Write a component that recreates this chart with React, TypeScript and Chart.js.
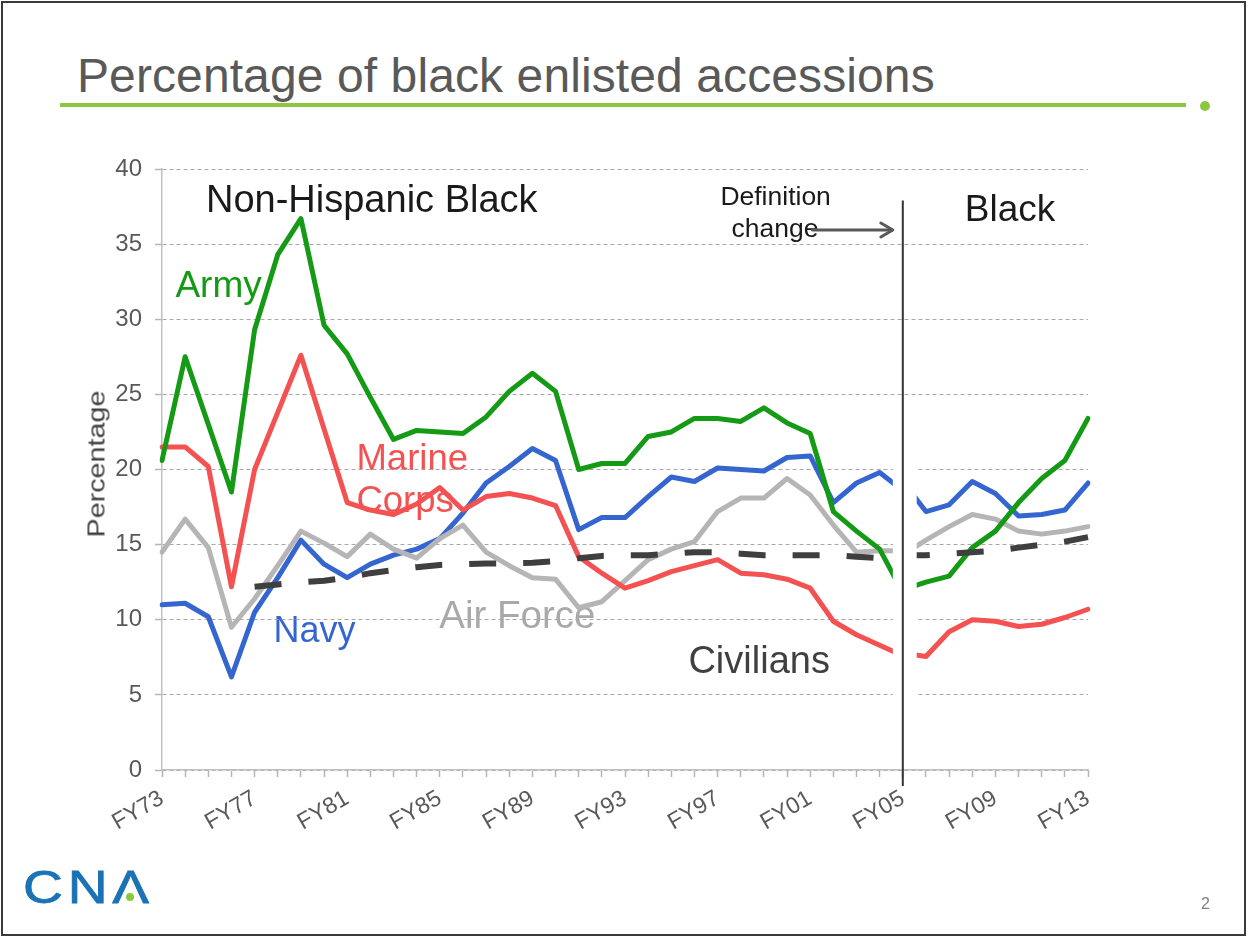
import React, { useEffect, useRef } from 'react';
import { Chart, registerables } from 'chart.js';

Chart.register(...registerables);

const FONT = '"Liberation Sans", Arial, Helvetica, sans-serif';

// ---- categories ----
const years = [
  'FY73', 'FY74', 'FY75', 'FY76', 'FY77', 'FY78', 'FY79', 'FY80', 'FY81', 'FY82',
  'FY83', 'FY84', 'FY85', 'FY86', 'FY87', 'FY88', 'FY89', 'FY90', 'FY91', 'FY92',
  'FY93', 'FY94', 'FY95', 'FY96', 'FY97', 'FY98', 'FY99', 'FY00', 'FY01', 'FY02',
  'FY03', 'FY04', 'FY05', 'FY06', 'FY07', 'FY08', 'FY09', 'FY10', 'FY11', 'FY12', 'FY13',
];
const tickLabels = ['FY73', 'FY77', 'FY81', 'FY85', 'FY89', 'FY93', 'FY97', 'FY01', 'FY05', 'FY09', 'FY13'];
const splitYear = 'FY05';

// Non-Hispanic Black definition (FY73 - FY05)
const nhbYears = years.slice(0, 33);
const armyNHB = [20.6, 27.5, 23.0, 18.5, 29.3, 34.3, 36.7, 29.6, 27.7, 24.8, 22.0, 22.6, 22.5, 22.4, 23.5, 25.2, 26.4, 25.2, 20.0, 20.4, 20.4, 22.2, 22.5, 23.4, 23.4, 23.2, 24.1, 23.1, 22.4, 17.2, 15.9, 14.7, 11.8];
const navyNHB = [11.0, 11.1, 10.2, 6.2, 10.5, 12.8, 15.3, 13.7, 12.8, 13.7, 14.3, 14.7, 15.4, 17.1, 19.1, 20.2, 21.4, 20.6, 16.0, 16.8, 16.8, 18.2, 19.5, 19.2, 20.1, 20.0, 19.9, 20.8, 20.9, 17.8, 19.1, 19.8, 18.6];
const marineNHB = [21.5, 21.5, 20.2, 12.2, 20.0, 23.8, 27.6, 22.7, 17.8, 17.3, 17.0, 17.7, 18.8, 17.3, 18.2, 18.4, 18.1, 17.6, 14.2, 13.1, 12.1, 12.6, 13.2, 13.6, 14.0, 13.1, 13.0, 12.7, 12.1, 9.9, 9.0, 8.3, 7.6];
const airForceNHB = [14.5, 16.7, 14.8, 9.5, 11.4, 13.6, 15.9, 15.1, 14.2, 15.7, 14.7, 14.1, 15.4, 16.3, 14.5, 13.6, 12.8, 12.7, 10.8, 11.2, 12.6, 14.0, 14.7, 15.2, 17.2, 18.1, 18.1, 19.4, 18.3, 16.3, 14.5, 14.6, 14.6];
const civiliansNHB = [null, null, null, null, 12.2, 12.35, 12.5, 12.6, 12.8, 13.1, 13.3, 13.5, 13.65, 13.7, 13.75, 13.75, 13.8, 13.9, 14.1, 14.25, 14.3, 14.3, 14.4, 14.5, 14.5, 14.4, 14.3, 14.3, 14.3, 14.3, 14.2, 14.1, 14.0];

// Black definition (FY05 - FY13)
const blackYears = years.slice(32);
const armyBlack = [12.0, 12.5, 12.9, 14.8, 15.9, 17.8, 19.4, 20.6, 23.4];
const navyBlack = [19.2, 17.2, 17.65, 19.2, 18.4, 16.9, 17.0, 17.3, 19.1];
const marineBlack = [7.8, 7.55, 9.2, 10.0, 9.9, 9.55, 9.7, 10.15, 10.7];
const airForceBlack = [14.3, 15.3, 16.2, 17.0, 16.7, 15.9, 15.7, 15.9, 16.2];
const civiliansBlack = [14.3, 14.3, 14.4, 14.5, 14.6, 14.8, 15.0, 15.2, 15.5];

const yTicks = [0, 5, 10, 15, 20, 25, 30, 35, 40];

const COLORS = {
  army: '#149a14',
  navy: '#3566d0',
  marine: '#f45252',
  airForce: '#b5b5b5',
  civilians: '#3f3f3f',
};

// in-chart text notes: [category index, value]
const chartNotes = [
  { text: 'Non-Hispanic Black', at: [1.9, 37.16], size: 38, color: '#1a1a1a' },
  { text: 'Black', at: [34.68, 36.56], size: 37, color: '#1a1a1a' },
  { text: 'Army', at: [0.58, 31.5], size: 37, color: COLORS.army },
  { text: 'Marine', at: [8.4, 19.97], size: 36.5, color: COLORS.marine },
  { text: 'Corps', at: [8.4, 17.19], size: 36.5, color: COLORS.marine },
  { text: 'Navy', at: [4.82, 8.54], size: 36, color: COLORS.navy },
  { text: 'Air Force', at: [11.98, 9.43], size: 38.5, color: '#a9a9a9' },
  { text: 'Civilians', at: [22.74, 6.44], size: 38, color: '#404040' },
  { text: 'Definition', at: [24.12, 37.6], size: 26.5, color: '#1a1a1a' },
  { text: 'change', at: [24.6, 35.5], size: 26.5, color: '#1a1a1a' },
];

function series(label: string, yrs: string[], vals: (number | null)[], color: string, side: string, dashed = false) {
  return {
    label,
    side,
    data: yrs.map((x, i) => ({ x, y: vals[i] })).filter((p) => p.y !== null),
    borderColor: color,
    backgroundColor: color,
    borderWidth: dashed ? 6 : 5,
    borderDash: dashed ? [27, 27] : [],
    borderCapStyle: dashed ? 'butt' : 'round',
    borderJoinStyle: 'round',
    pointRadius: 0,
    tension: 0,
    fill: false,
  };
}

const splitPlugin = {
  id: 'splitPlugin',
  beforeDraw(chart: any) {
    const { ctx, scales } = chart;
    const x = scales.x;
    const y = scales.y;
    ctx.save();
    ctx.textAlign = 'left';
    ctx.textBaseline = 'alphabetic';
    for (const n of chartNotes) {
      ctx.font = `${n.size}px ${FONT}`;
      ctx.fillStyle = n.color;
      ctx.fillText(n.text, x.getPixelForValue(n.at[0]), y.getPixelForValue(n.at[1]));
    }
    ctx.restore();
  },
  beforeDatasetsDraw(chart: any) {
    const { ctx, scales, chartArea } = chart;
    const x = scales.x;
    const y = scales.y;
    const idx = years.indexOf(splitYear);
    const xs = x.getPixelForValue(idx);
    const step = x.getPixelForValue(idx + 1) - xs;
    const top = y.getPixelForValue(22.5);
    ctx.save();
    ctx.fillStyle = '#ffffff';
    ctx.fillRect(xs - 0.43 * step, top, step * 1.03, chartArea.bottom - 1.2 - top);
    ctx.restore();
  },
  beforeDatasetDraw(chart: any, args: any) {
    const { ctx, scales } = chart;
    const x = scales.x;
    const ds = chart.data.datasets[args.index];
    const idx = years.indexOf(splitYear);
    const xs = x.getPixelForValue(idx);
    const step = x.getPixelForValue(idx + 1) - xs;
    ctx.save();
    ctx.beginPath();
    if (ds.side === 'left') ctx.rect(0, 0, xs - 0.43 * step, chart.height);
    else ctx.rect(xs + 0.6 * step, 0, chart.width, chart.height);
    ctx.clip();
  },
  afterDatasetDraw(chart: any) {
    chart.ctx.restore();
  },
  afterDatasetsDraw(chart: any) {
    const { ctx, scales, chartArea } = chart;
    const x = scales.x;
    const y = scales.y;
    const idx = years.indexOf(splitYear);
    const xs = x.getPixelForValue(idx);
    const step = x.getPixelForValue(idx + 1) - xs;
    ctx.save();
    // vertical divider
    ctx.strokeStyle = '#333333';
    ctx.lineWidth = 2;
    ctx.beginPath();
    ctx.moveTo(xs, y.getPixelForValue(37.9));
    ctx.lineTo(xs, chartArea.bottom + 16);
    ctx.stroke();
    // arrow
    const ay = y.getPixelForValue(35.94);
    const ax0 = x.getPixelForValue(28.1);
    const ax1 = xs - 0.43 * step;
    ctx.strokeStyle = '#595959';
    ctx.lineWidth = 3;
    ctx.lineCap = 'round';
    ctx.lineJoin = 'round';
    ctx.beginPath();
    ctx.moveTo(ax0, ay);
    ctx.lineTo(ax1 - 1, ay);
    ctx.stroke();
    ctx.beginPath();
    ctx.moveTo(ax1 - 12, ay - 7);
    ctx.lineTo(ax1, ay);
    ctx.lineTo(ax1 - 12, ay + 7);
    ctx.stroke();
    ctx.restore();
  },
};

export default function App() {
  const canvasRef = useRef<HTMLCanvasElement>(null);

  useEffect(() => {
    const canvas = canvasRef.current;
    if (!canvas) return;
    const datasets = [
      series('Civilians', nhbYears, civiliansNHB, COLORS.civilians, 'left', true),
      series('Civilians (Black)', blackYears, civiliansBlack, COLORS.civilians, 'right', true),
      series('Army', nhbYears, armyNHB, COLORS.army, 'left'),
      series('Army (Black)', blackYears, armyBlack, COLORS.army, 'right'),
      series('Marine Corps', nhbYears, marineNHB, COLORS.marine, 'left'),
      series('Marine Corps (Black)', blackYears, marineBlack, COLORS.marine, 'right'),
      series('Air Force', nhbYears, airForceNHB, COLORS.airForce, 'left'),
      series('Air Force (Black)', blackYears, airForceBlack, COLORS.airForce, 'right'),
      series('Navy', nhbYears, navyNHB, COLORS.navy, 'left'),
      series('Navy (Black)', blackYears, navyBlack, COLORS.navy, 'right'),
    ];
    const chart = new Chart(canvas, {
      type: 'line',
      data: { labels: years, datasets: datasets as any },
      options: {
        animation: false,
        responsive: false,
        devicePixelRatio: 1,
        layout: { padding: { left: 0, top: 169, right: 160, bottom: 0 } },
        plugins: { legend: { display: false }, tooltip: { enabled: false }, title: { display: false } },
        scales: {
          x: {
            type: 'category',
            offset: false,
            grid: {
              display: true,
              drawOnChartArea: false,
              drawTicks: true,
              tickLength: 7,
              tickColor: '#b5b5b5',
              tickWidth: 1.5,
            },
            border: { display: true, color: '#c0c0c0', width: 1.5 },
            ticks: {
              autoSkip: false,
              minRotation: 30,
              maxRotation: 30,
              padding: 8,
              color: '#595959',
              font: { size: 23, family: FONT },
              callback: (_v: any, i: number) => (tickLabels.includes(years[i]) ? years[i] : ''),
            },
            afterFit: (s: any) => {
              s.height = 168;
            },
          },
          y: {
            min: yTicks[0],
            max: yTicks[yTicks.length - 1],
            afterBuildTicks: (s: any) => {
              s.ticks = yTicks.map((v) => ({ value: v }));
            },
            grid: {
              color: '#a8a8a8',
              lineWidth: 1,
              drawTicks: true,
              tickLength: 7,
              tickColor: '#b5b5b5',
              tickWidth: 1.5,
              tickBorderDash: [],
            },
            border: { display: true, color: '#c0c0c0', width: 1.5, dash: [4, 3] },
            ticks: {
              padding: 13,
              color: '#595959',
              font: { size: 24, family: FONT },
            },
            afterFit: (s: any) => {
              s.width = 162;
            },
          },
        },
      } as any,
      plugins: [splitPlugin],
    });
    return () => chart.destroy();
  }, []);

  return (
    <div
      style={{
        position: 'absolute',
        left: 0,
        top: 0,
        width: 1248,
        height: 938,
        background: '#ffffff',
        overflow: 'hidden',
        fontFamily: FONT,
      }}
    >
      <div
        style={{
          position: 'absolute',
          left: 1,
          top: 1,
          width: 1245,
          height: 935,
          border: '2px solid #3a3a3a',
          boxSizing: 'border-box',
        }}
      />
      <div
        style={{
          position: 'absolute',
          left: 77,
          top: 52,
          fontSize: 48,
          lineHeight: '48px',
          color: '#595959',
          whiteSpace: 'nowrap',
          letterSpacing: 0.1,
        }}
      >
        Percentage of black enlisted accessions
      </div>
      <div style={{ position: 'absolute', left: 60, top: 103, width: 1126, height: 4, background: '#8dc63f' }} />
      <div
        style={{
          position: 'absolute',
          left: 1200,
          top: 101,
          width: 10,
          height: 10,
          borderRadius: '50%',
          background: '#8dc63f',
        }}
      />
      <canvas ref={canvasRef} width={1248} height={938} style={{ position: 'absolute', left: 0, top: 0 }} />
      <div
        style={{
          position: 'absolute',
          left: 97,
          top: 464,
          fontSize: 23,
          lineHeight: '23px',
          color: '#404040',
          whiteSpace: 'nowrap',
          transform: 'translate(-50%, -50%) rotate(-90deg) scaleX(1.25)',
        }}
      >
        Percentage
      </div>
      <div
        style={{
          position: 'absolute',
          left: 23,
          top: 864,
          fontSize: 46,
          lineHeight: '46px',
          color: '#1b72b5',
          whiteSpace: 'nowrap',
          letterSpacing: 4,
          WebkitTextStroke: '0.8px #1b72b5',
          transform: 'scaleX(1.2)',
          transformOrigin: 'left center',
        }}
      >
        CNΛ
      </div>
      <div
        style={{
          position: 'absolute',
          left: 126,
          top: 893,
          width: 8,
          height: 8,
          borderRadius: '50%',
          background: '#8dc63f',
        }}
      />
      <div
        style={{
          position: 'absolute',
          left: 1201,
          top: 896,
          fontSize: 16,
          lineHeight: '16px',
          color: '#7f7f7f',
        }}
      >
        2
      </div>
    </div>
  );
}
